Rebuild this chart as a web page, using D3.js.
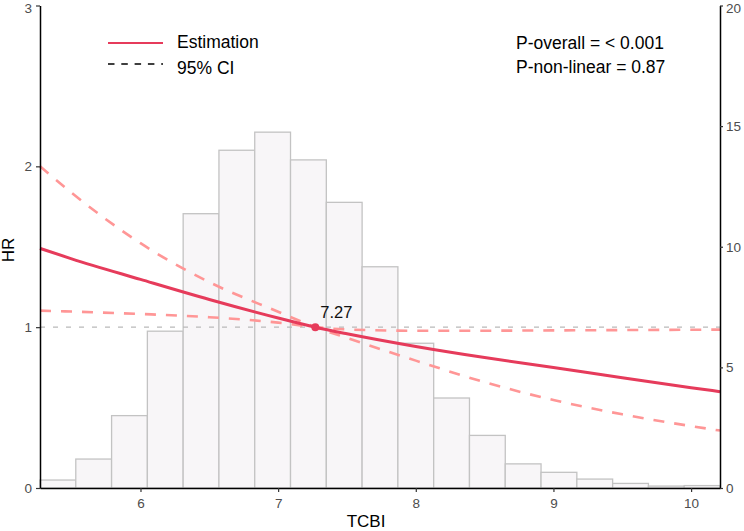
<!DOCTYPE html>
<html>
  <head>
    <meta charset="utf-8">
    <title>TCBI restricted cubic spline</title>
    <script src="https://d3js.org/d3.v7.min.js"></script>
    <style>
      body{
        margin: 0;
        background: #ffffff;
      }
      svg text{
        font-family: "Liberation Sans", Arial, sans-serif;
      }
      .tick text{
        fill: #4d4d4d;
        font-size: 13.5px;
      }
    </style>
  </head>
  <body>
    <div id="container"></div>
    <script>

      // DATA
      // histogram of TCBI (percent of patients per bin)
      const binEdges = [5.27, 5.53, 5.79, 6.05, 6.31, 6.57, 6.83, 7.09, 7.35, 7.61,
                        7.87, 8.13, 8.39, 8.65, 8.91, 9.17, 9.43, 9.69, 9.95, 10.21];
      const binPercent = [0.33, 1.2, 3.0, 6.5, 11.37, 14.0, 14.75, 13.6, 11.84, 9.17,
                          6.0, 3.73, 2.18, 1.0, 0.65, 0.37, 0.19, 0.08, 0.1];

      // spline curve, hazard ratio with 95% CI
      const tcbi      = [5.27, 5.5, 6.0, 6.5, 7.0, 7.27, 7.5, 8.0, 8.5, 9.0, 9.5, 10.0, 10.21];
      const hrEst     = [1.49, 1.425, 1.297, 1.172, 1.057, 1.0, 0.959, 0.880, 0.811, 0.749, 0.685, 0.624, 0.599];
      const hrCiSteep = [2.0, 1.835, 1.522, 1.28, 1.096, 1.0, 0.933, 0.792, 0.658, 0.547, 0.458, 0.385, 0.357];
      const hrCiFlat  = [1.103, 1.097, 1.082, 1.062, 1.028, 1.0, 0.986, 0.978, 0.978, 0.98, 0.982, 0.984, 0.985];

      const refValue = 7.27;
      const xTicks = [6, 7, 8, 9, 10];
      const hrTicks = [0, 1, 2, 3];
      const pctTicks = [0, 5, 10, 15, 20];

      const pOverall = "P-overall = < 0.001";
      const pNonLinear = "P-non-linear = 0.87";

      // SET DIMENSIONS
      const W = 744, H = 531;
      const plotL = 40, plotR = 720, plotT = 5.5, plotB = 488;

      const svg = d3.select("#container")
        .append("svg")
        .attr("width", W)
        .attr("height", H);

      // SCALES
      const x = d3.scaleLinear().domain([5.27, 10.21]).range([plotL, plotR]);
      const y = d3.scaleLinear().domain([0, 3]).range([plotB, plotT]);
      const yPct = d3.scaleLinear().domain([0, 20]).range([plotB, plotT]);

      // HISTOGRAM
      const bins = binPercent.map((v, i) => ({ x0: binEdges[i], x1: binEdges[i + 1], v: v }));
      svg.append("g")
        .selectAll("rect")
        .data(bins)
        .enter()
        .append("rect")
        .attr("x", d => x(d.x0))
        .attr("width", d => x(d.x1) - x(d.x0))
        .attr("y", d => yPct(d.v))
        .attr("height", d => yPct(0) - yPct(d.v))
        .attr("fill", "#f8f6f8")
        .attr("stroke", "#c3c3c3")
        .attr("stroke-width", 1.3);

      // REFERENCE LINE HR = 1
      svg.append("line")
        .attr("x1", plotL).attr("x2", plotR)
        .attr("y1", y(1)).attr("y2", y(1))
        .attr("stroke", "#b9b9b9")
        .attr("stroke-width", 1.3)
        .attr("stroke-dasharray", "5,8");

      // CURVES
      const line = (vals) => d3.line()
        .x((d, i) => x(tcbi[i]))
        .y(d => y(d))
        .curve(d3.curveMonotoneX)(vals);

      [hrCiSteep, hrCiFlat].forEach(ci => {
        svg.append("path")
          .attr("d", line(ci))
          .attr("fill", "none")
          .attr("stroke", "#ff9696")
          .attr("stroke-width", 2.6)
          .attr("stroke-dasharray", "11,10");
      });

      svg.append("path")
        .attr("d", line(hrEst))
        .attr("fill", "none")
        .attr("stroke", "#e63b5b")
        .attr("stroke-width", 3);

      // REFERENCE POINT
      svg.append("circle")
        .attr("cx", x(refValue))
        .attr("cy", y(1))
        .attr("r", 4)
        .attr("fill", "#e63b5b");

      svg.append("text")
        .attr("x", x(refValue) + 5)
        .attr("y", y(1) - 9)
        .attr("font-size", 16.5)
        .attr("fill", "#111")
        .text(refValue.toFixed(2));

      // AXES
      const fmt = d3.format("d");
      const xAxis = svg.append("g")
        .attr("transform", "translate(0," + plotB + ")")
        .call(d3.axisBottom(x).tickValues(xTicks).tickFormat(fmt).tickSize(4).tickPadding(6).tickSizeOuter(0));

      const yAxis = svg.append("g")
        .attr("transform", "translate(" + plotL + ",0)")
        .call(d3.axisLeft(y).tickValues(hrTicks).tickFormat(fmt).tickSize(4).tickPadding(4).tickSizeOuter(0));

      const yAxisR = svg.append("g")
        .attr("transform", "translate(" + plotR + ",0)")
        .call(d3.axisRight(yPct).tickValues(pctTicks).tickFormat(fmt).tickSize(3).tickPadding(3).tickSizeOuter(0));

      [xAxis, yAxis, yAxisR].forEach(a => {
        a.select(".domain").attr("stroke", "#000").attr("stroke-width", 1.5);
        a.selectAll(".tick line").attr("stroke", "#333").attr("stroke-width", 1.2);
      });

      // keep the top labels inside the page
      yAxis.selectAll(".tick text").filter(d => d === 3).attr("dy", "0.55em");
      yAxisR.selectAll(".tick text").filter(d => d === 20).attr("dy", "0.55em");

      // AXIS TITLES
      svg.append("text")
        .attr("x", 366)
        .attr("y", 527)
        .attr("text-anchor", "middle")
        .attr("font-size", 17)
        .attr("fill", "#000")
        .text("TCBI");

      svg.append("text")
        .attr("transform", "translate(13.5,250) rotate(-90)")
        .attr("text-anchor", "middle")
        .attr("font-size", 17)
        .attr("fill", "#000")
        .text("HR");

      // LEGEND
      const legend = svg.append("g");
      legend.append("line")
        .attr("x1", 108).attr("x2", 163)
        .attr("y1", 43).attr("y2", 43)
        .attr("stroke", "#e63b5b")
        .attr("stroke-width", 2);
      legend.append("text")
        .attr("x", 177).attr("y", 48)
        .attr("font-size", 17.5)
        .text("Estimation");
      legend.append("line")
        .attr("x1", 108).attr("x2", 163)
        .attr("y1", 64).attr("y2", 64)
        .attr("stroke", "#000")
        .attr("stroke-width", 1.6)
        .attr("stroke-dasharray", "6.5,6.8");
      legend.append("text")
        .attr("x", 177).attr("y", 73.5)
        .attr("font-size", 17.5)
        .text("95% CI");

      // P VALUES
      svg.append("text")
        .attr("x", 516).attr("y", 48.5)
        .attr("font-size", 17.5)
        .text(pOverall);
      svg.append("text")
        .attr("x", 516).attr("y", 73)
        .attr("font-size", 17.5)
        .text(pNonLinear);

    </script>
  </body>
</html>
